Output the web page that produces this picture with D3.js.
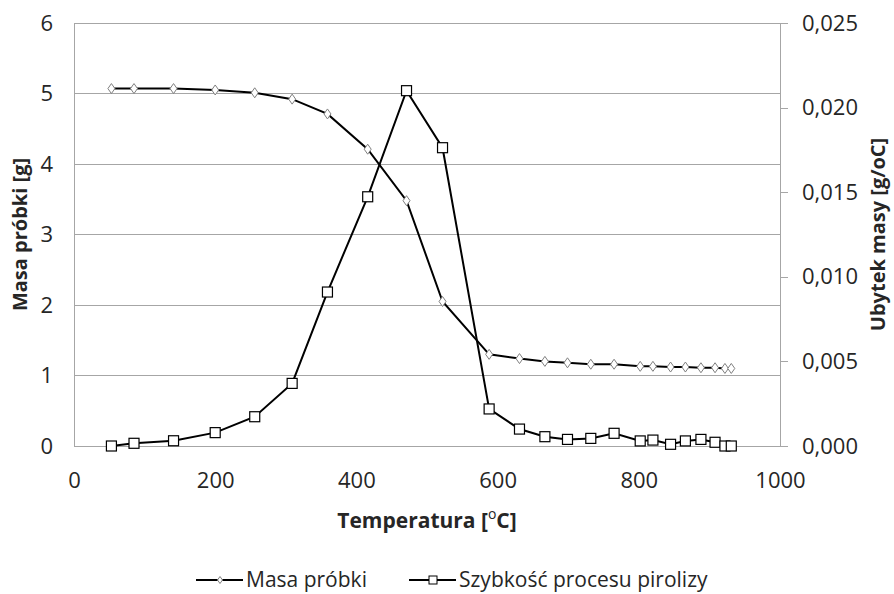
<!DOCTYPE html>
<html lang="pl">
<head>
<meta charset="UTF-8">
<title>Piroliza</title>
<script src="https://d3js.org/d3.v7.min.js"></script>
<style>
  body { margin: 0; background: #fff; }
  svg text { font-family: "Open Sans", sans-serif; fill: #262626; }
</style>
</head>
<body>
<div id="chart"></div>
<script>
// temperatures [oC]
var temps = [53, 85, 141, 200, 256, 309, 359, 416, 471, 522,
             588, 631, 667, 699, 732, 765, 802, 820, 845, 866, 888, 908, 922, 931];
// sample mass [g]
var masa = [5.07, 5.07, 5.07, 5.05, 5.01, 4.92, 4.71, 4.21, 3.48, 2.05,
            1.30, 1.24, 1.20, 1.18, 1.16, 1.16, 1.13, 1.13, 1.12, 1.12, 1.11, 1.11, 1.10, 1.10];
// mass loss rate [g/oC]
var szybkosc = [0.0000, 0.00016, 0.00031, 0.00079, 0.00173, 0.0037, 0.0091, 0.01473, 0.0210, 0.01763,
                0.00219, 0.00100, 0.00055, 0.00039, 0.00045, 0.00075, 0.00030, 0.00035, 0.00010, 0.00030,
                0.00039, 0.00022, 0.0000, 0.0000];
var xTicks = [0, 200, 400, 600, 800, 1000];
var leftTicks = [0, 1, 2, 3, 4, 5, 6];
var rightTicks = [0, 0.005, 0.010, 0.015, 0.020, 0.025];

var W = 894, H = 594;
var m = {left: 74, right: 114, top: 23, bottom: 148};

var svg = d3.select("#chart").append("svg")
  .attr("width", W).attr("height", H);

var x = d3.scaleLinear().domain([0, 1000]).range([m.left, W - m.right]);
var yL = d3.scaleLinear().domain([0, 6]).range([H - m.bottom, m.top]);
var yR = d3.scaleLinear().domain([0, 0.025]).range([H - m.bottom, m.top]);

var grey = "#a6a6a6";

// horizontal gridlines
svg.append("g").selectAll("line").data(leftTicks.slice(1)).join("line")
  .attr("x1", x(0)).attr("x2", x(1000))
  .attr("y1", d => yL(d)).attr("y2", d => yL(d))
  .attr("stroke", grey).attr("stroke-width", 1).attr("shape-rendering", "crispEdges");

// left axis
var axL = svg.append("g").attr("transform", "translate(" + x(0) + ",0)")
  .call(d3.axisLeft(yL).tickValues(leftTicks).tickSize(0).tickPadding(21).tickFormat(d3.format("d")));
// bottom axis
var axB = svg.append("g").attr("transform", "translate(0," + yL(0) + ")")
  .call(d3.axisBottom(x).tickValues(xTicks).tickSize(0).tickPadding(26).tickFormat(d3.format("d")));
// right axis
var axR = svg.append("g").attr("transform", "translate(" + x(1000) + ",0)")
  .call(d3.axisRight(yR).tickValues(rightTicks).tickSize(8).tickPadding(14)
    .tickFormat(d => d3.format(".3f")(d).replace(".", ",")));

[axL, axB, axR].forEach(function(a) {
  a.select(".domain").attr("stroke", grey).attr("shape-rendering", "crispEdges");
  a.selectAll(".tick line").attr("stroke", grey).attr("shape-rendering", "crispEdges");
  a.selectAll("text").attr("font-size", 22).attr("fill", "#262626");
});

// series lines
var lineM = d3.line().x((d, i) => x(temps[i])).y(d => yL(d));
var lineS = d3.line().x((d, i) => x(temps[i])).y(d => yR(d));

svg.append("path").datum(masa).attr("d", lineM)
  .attr("fill", "none").attr("stroke", "#000").attr("stroke-width", 2);
svg.append("path").datum(szybkosc).attr("d", lineS)
  .attr("fill", "none").attr("stroke", "#000").attr("stroke-width", 2);

var diamond = "M0,-5L3.5,0L0,5L-3.5,0Z";

svg.append("g").selectAll("path").data(masa).join("path")
  .attr("d", diamond)
  .attr("transform", (d, i) => "translate(" + x(temps[i]) + "," + yL(d) + ")")
  .attr("fill", "#fff").attr("stroke", "#7f7f7f").attr("stroke-width", 1);

svg.append("g").selectAll("rect").data(szybkosc).join("rect")
  .attr("x", (d, i) => x(temps[i]) - 5).attr("y", d => yR(d) - 5)
  .attr("width", 10).attr("height", 10)
  .attr("fill", "#fff").attr("stroke", "#000").attr("stroke-width", 1.2);

// axis titles
var xt = svg.append("text")
  .attr("x", (x(0) + x(1000)) / 2).attr("y", 528)
  .attr("text-anchor", "middle").attr("font-size", 21).attr("font-weight", "bold");
xt.append("tspan").text("Temperatura [");
xt.append("tspan").attr("baseline-shift", "super").attr("font-size", 14).attr("font-weight", "normal").text("o");
xt.append("tspan").text("C]");

svg.append("text")
  .attr("transform", "translate(27," + (yL(3)) + ") rotate(-90)")
  .attr("text-anchor", "middle").attr("font-size", 20).attr("font-weight", "bold")
  .text("Masa próbki [g]");

svg.append("text")
  .attr("transform", "translate(885," + (yL(3)) + ") rotate(-90)")
  .attr("text-anchor", "middle").attr("font-size", 20).attr("font-weight", "bold")
  .text("Ubytek masy [g/oC]");

// legend
var legend = [
  {name: "Masa próbki", x0: 196, marker: "diamond"},
  {name: "Szybkość procesu pirolizy", x0: 409, marker: "square"}
];
var ly = 580;
legend.forEach(function(l) {
  var g = svg.append("g");
  g.append("line").attr("x1", l.x0).attr("x2", l.x0 + 47).attr("y1", ly).attr("y2", ly)
    .attr("stroke", "#000").attr("stroke-width", 2);
  if (l.marker === "diamond") {
    g.append("path").attr("d", "M0,-3.5L2.5,0L0,3.5L-2.5,0Z")
      .attr("transform", "translate(" + (l.x0 + 24) + "," + ly + ")")
      .attr("fill", "#fff").attr("stroke", "#7f7f7f");
  } else {
    g.append("rect").attr("x", l.x0 + 24 - 4).attr("y", ly - 4).attr("width", 8).attr("height", 8)
      .attr("fill", "#fff").attr("stroke", "#000");
  }
  g.append("text").attr("x", l.x0 + 50).attr("y", ly + 7).attr("font-size", 21).text(l.name);
});
</script>
</body>
</html>
